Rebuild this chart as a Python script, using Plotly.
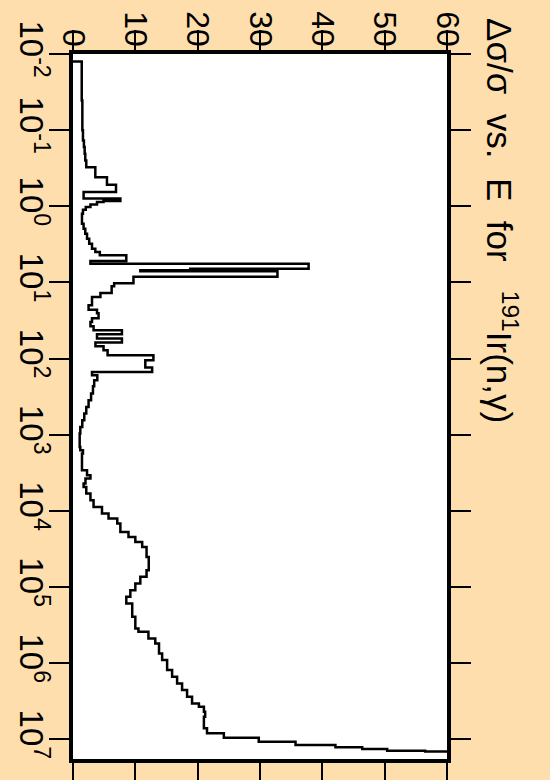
import plotly.graph_objects as go

# Lower edges of the energy groups (eV), plus the final upper edge
energy_edges = [0.0125, 0.0408, 0.1, 0.1365, 0.167, 0.204, 0.25, 0.306, 0.414, 0.521,
                0.651, 0.788, 0.849, 0.881, 0.944, 1.024, 1.108, 1.25, 1.692, 1.968,
                2.288, 2.662, 3.096, 3.601, 3.99, 4.41, 5.21, 5.666, 6.63, 6.897,
                7.15, 8.44, 10.27, 11.25, 13.78, 15.55, 19.98, 22.75, 25.44, 29.59,
                33.09, 37.68, 42.53, 47.98, 54.65, 61.66, 68.97, 77.84, 90.5, 105.3,
                131.3, 149.9, 165.6, 192.7, 230.9, 288, 352.5, 431.7, 527, 645,
                790, 964.5, 1181, 1446, 1597, 1765, 2924, 3400, 3756, 4370,
                4842, 5911, 7237, 8862, 10818, 12584, 14638, 18865, 21942, 25521,
                29683, 40170, 60010, 73480, 89710, 109800, 134500, 164100, 246100, 349400,
                387100, 472600, 549900, 743700, 910700, 1.232e6, 1.508e6, 1.841e6, 2.254e6, 2.76e6,
                3.37e6, 3.735e6, 4.343e6, 5.05e6, 7.17e6, 8.34e6, 9.53e6, 1.075e7, 1.188e7, 1.274e7,
                1.341e7, 1.411e7, 1.446e7, 2.0e7]

# Relative uncertainty (%) in each group
rel_unc = [1.4, 1.5, 1.6, 1.75, 1.87, 1.97, 2.13, 3.58, 5.45, 6.9,
           1.7, 7.6, 4.9, 3.85, 2.8, 2.05, 1.6, 1.44, 1.7, 1.97,
           2.25, 2.6, 3.05, 3.58, 4.3, 8.55, 2.8, 37.8, 18.8, 10.8,
           32.8, 9.7, 6.6, 6.2, 4.4, 3.05, 2.5, 3.85, 4.1, 3.05,
           2.8, 3.3, 7.85, 3.85, 7.85, 3.6, 4.9, 5.55, 12.9, 11.6,
           12.7, 3.05, 3.9, 3.4, 3.2, 2.9, 2.5, 2.13, 1.81, 1.49,
           1.17, 1.07, 1.07, 1.17, 1.6, 1.44, 2.25, 2.8, 2.0, 1.7,
           2.13, 2.8, 3.3, 4.65, 5.7, 7.1, 7.6, 8.9, 10.0, 11.1,
           11.8, 12.15, 11.8, 10.8, 10.0, 9.2, 8.55, 9.5, 10.0, 10.5,
           12.1, 13.2, 13.8, 14.3, 15.1, 15.9, 16.7, 17.5, 18.3, 19.1,
           20.2, 21.0, 21.2, 21.0, 21.5, 24.2, 29.8, 35.7, 42.1, 46.4,
           50.4, 56.5, 64.0]

x_ticks = [0, 10, 20, 30, 40, 50, 60]
e_ticks = [1e-2, 1e-1, 1e0, 1e1, 1e2, 1e3, 1e4, 1e5, 1e6, 1e7]
e_tick_text = ["10<sup>-2</sup>", "10<sup>-1</sup>", "10<sup>0</sup>", "10<sup>1</sup>",
               "10<sup>2</sup>", "10<sup>3</sup>", "10<sup>4</sup>", "10<sup>5</sup>",
               "10<sup>6</sup>", "10<sup>7</sup>"]

xs = [0] + rel_unc + [rel_unc[-1]]
ys = [energy_edges[0]] + energy_edges

FONT = "Liberation Sans, Arial, Helvetica, sans-serif"
BG = "#FFDEAD"

fig = go.Figure()
fig.add_trace(go.Scatter(x=xs, y=ys, mode="lines", line=dict(color="black", width=2.5, shape="vh"),
                         showlegend=False, hoverinfo="skip"))

axis_common = dict(showline=True, linewidth=4, linecolor="black", mirror="allticks",
                   ticks="outside", ticklen=20, tickwidth=2, tickcolor="black",
                   showgrid=False, zeroline=False, automargin=False)

fig.update_layout(
    width=550, height=780,
    margin=dict(l=73, r=103, t=54, b=21),
    paper_bgcolor=BG,
    plot_bgcolor="white",
    xaxis=dict(side="top", range=[0, 60], tickvals=x_ticks, tickangle=90,
               ticklabelstandoff=-28,
               tickfont=dict(family=FONT, size=32, color="black"), **axis_common),
    yaxis=dict(type="log", range=[7.258, -2], tickvals=e_ticks, ticktext=e_tick_text,
               tickangle=90, ticklabelstandoff=-11,
               tickfont=dict(family=FONT, size=33, color="black"), **axis_common),
    annotations=[dict(text="Δσ/σ\u00a0 vs.\u00a0 E\u00a0 for\u00a0\u00a0 <sup>191</sup>Ir(n,γ)",
                      textangle=90,
                      xref="paper", yref="paper", x=1.147, y=0.763,
                      xanchor="center", yanchor="middle", showarrow=False,
                      font=dict(family=FONT, size=35, color="black"))],
)

fig.write_html("out.html", config={"displayModeBar": False},
               post_script="document.body.style.margin='0';"
                           "document.body.style.background='" + BG + "';")
